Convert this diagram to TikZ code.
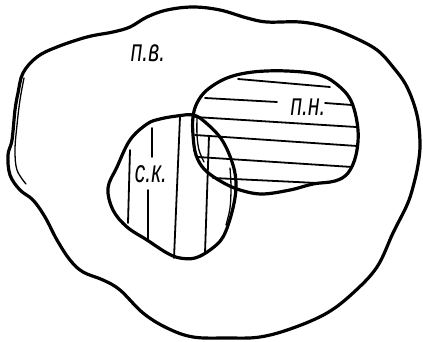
\documentclass[tikz,border=0pt]{standalone}
\usepackage{fontspec}
\usepackage{graphicx}
\setmainfont{Liberation Sans}
\begin{document}
\begin{tikzpicture}[x=1pt,y=-1pt,
  outline/.style={line width=3.2pt, line join=round},
  hatch/.style={line width=1.8pt, line cap=round},
  thinline/.style={line width=1.3pt, line cap=round},
  lbl/.style={font=\itshape\fontsize{21}{21}\selectfont, inner sep=0pt}]
\useasboundingbox (0,0) rectangle (423,342);
\fill[white] (0,0) rectangle (423,342);

% outer region (п.в.)
\draw[outline] plot[smooth cycle, tension=0.6] coordinates {
 (12,140) (15,110) (18,93) (23,73) (37,57) (57,47) (87,37) (113,32) (130,27)
 (147,17) (167,10) (193,7) (220,10) (247,18) (267,22) (300,22) (327,27)
 (353,37) (377,50) (393,67) (407,87) (417,115) (420,143) (418,165) (413,187)
 (407,205) (393,233) (377,267) (353,293) (327,313) (293,328) (260,337)
 (227,338) (193,337) (167,328) (143,313) (120,290) (103,280) (83,272)
 (70,260) (57,240) (45,217) (33,200) (20,190) (10,175) (8,155)};
% doubled stroke on left side
\draw[thinline] plot[smooth, tension=0.6] coordinates {
 (24,78) (20,100) (17,125) (15,150) (17,170) (26,184)};

% hatching of п.н. (horizontal)
\draw[hatch] (238,79) -- (330,87);
\draw[hatch] (205,98) -- (277,102);
\draw[hatch] (325,103) -- (352,105);
\draw[hatch] (195,117) -- (356,127);
\draw[hatch] (195,135) -- (357,146);
\draw[hatch] (198,157) -- (352,167);
\draw[hatch] (213,178) -- (317,183);

% hatching of с.к. (vertical)
\draw[hatch] (130,150) -- (128,223);
\draw[hatch] (152,128) -- (152,157);
\draw[hatch] (148,190) -- (148,240);
\draw[hatch] (180,117) -- (174,258);
\draw[hatch] (209,136) -- (205,253);

% region п.н.
\draw[outline] plot[smooth cycle, tension=0.6] coordinates {
 (193,117) (197,103) (207,90) (227,78) (253,72) (287,71) (320,75) (340,87)
 (352,103) (358,130) (356,155) (348,173) (335,181) (313,184) (290,190)
 (262,194) (240,190) (222,182) (205,170) (196,155) (193,135)};
\draw[thinline] plot[smooth, tension=0.6] coordinates {
 (197,118) (197,135) (199,150) (204,162)};

% region с.к.
\draw[outline] plot[smooth cycle, tension=0.6] coordinates {
 (193,115) (177,116) (160,119) (147,124) (130,140) (117,167) (108,188)
 (113,210) (127,227) (147,240) (167,253) (180,258) (195,258) (210,250)
 (223,237) (232,212) (236,187) (233,165) (222,140) (205,122)};
\draw[thinline] plot[smooth, tension=0.6] coordinates {
 (230,168) (231,187) (230,208) (226,225)};

% labels
\node[lbl] (pv) at (148,53) {\scalebox{1}[1.5]{п.в.}};
\node[lbl] (pn) at (308,107) {\scalebox{1}[1.5]{п.н.}};
\node[lbl] (sk) at (151,174) {\scalebox{1}[1.5]{с.к.}};
\end{tikzpicture}
\end{document}
